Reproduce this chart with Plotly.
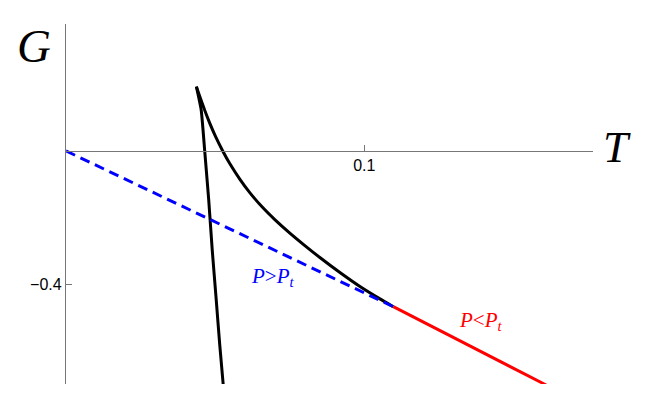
import plotly.graph_objects as go

# Values
small_T = [0.04372, 0.04533, 0.04651, 0.04785, 0.04903, 0.05037, 0.05155, 0.05272]
small_G = [0.1925, 0.1228, 0.0, -0.1467, -0.2964, -0.4461, -0.5808, -0.7006]

large_T = [0.04372, 0.04483, 0.04651, 0.04819, 0.05020, 0.05255, 0.05490, 0.05826,
           0.06162, 0.06565, 0.07001, 0.07505, 0.08009, 0.08512, 0.09184, 0.09856,
           0.10527, 0.10974]
large_G = [0.1925, 0.1635, 0.1216, 0.0832, 0.0419, 0.0, -0.0377, -0.0841,
           -0.1246, -0.1665, -0.2054, -0.2458, -0.2832, -0.3189, -0.3638, -0.4057,
           -0.4428, -0.4662]

blue_T = [0.0, 0.10974]
blue_G = [0.0, -0.4662]

red_T = [0.10974, 0.1610]
red_G = [-0.4662, -0.7006]

x_ticks = [0.1]
x_ticktext = ["0.1"]
y_ticks = [-0.4]
y_ticktext = ["\u22120.4"]

fig = go.Figure()
fig.add_trace(go.Scatter(x=small_T, y=small_G, mode="lines",
                         line=dict(color="black", width=3, shape="spline", smoothing=0.5)))
fig.add_trace(go.Scatter(x=large_T, y=large_G, mode="lines",
                         line=dict(color="black", width=3, shape="spline", smoothing=0.5)))
fig.add_trace(go.Scatter(x=blue_T, y=blue_G, mode="lines",
                         line=dict(color="#0000ff", width=3, dash="10px,6px")))
fig.add_trace(go.Scatter(x=red_T, y=red_G, mode="lines",
                         line=dict(color="#ff0000", width=3)))

ymin, ymax = -0.6976, 0.380
fig.update_layout(
    width=640, height=404,
    margin=dict(l=58, r=55, t=16, b=28),
    paper_bgcolor="white", plot_bgcolor="white",
    showlegend=False,
    xaxis=dict(range=[0, 0.1767], showgrid=False, zeroline=False, showline=True,
               linecolor="#777777", linewidth=1.3, anchor="free",
               position=(0 - ymin) / (ymax - ymin),
               tickvals=x_ticks, ticktext=x_ticktext, ticks="inside", ticklen=6,
               tickcolor="#777777",
               tickfont=dict(family="Liberation Sans", size=16, color="black")),
    yaxis=dict(range=[ymin, ymax], showgrid=False, zeroline=False, showline=True,
               linecolor="#777777", linewidth=1.3,
               tickvals=y_ticks, ticktext=y_ticktext, ticks="inside", ticklen=6,
               tickcolor="#777777",
               tickfont=dict(family="Liberation Sans", size=16, color="black")),
    annotations=[
        dict(text="<i>G</i>", xref="paper", yref="paper", x=-0.060, y=0.94,
             xanchor="center", yanchor="middle", showarrow=False,
             font=dict(family="Liberation Serif", size=47, color="black")),
        dict(text="<i>T</i>", xref="paper", yref="paper", x=1.046, y=0.658,
             xanchor="center", yanchor="middle", showarrow=False,
             font=dict(family="Liberation Serif", size=45, color="black")),
        dict(text="<i>P</i>&gt;<i>P<sub>t</sub></i>", x=0.0693, y=-0.377, showarrow=False,
             xanchor="center", yanchor="middle",
             font=dict(family="Liberation Serif", size=21, color="#0000ff")),
        dict(text="<i>P</i>&lt;<i>P<sub>t</sub></i>", x=0.1392, y=-0.509, showarrow=False,
             xanchor="center", yanchor="middle",
             font=dict(family="Liberation Serif", size=21, color="#ff0000")),
    ],
)
fig.write_html("out.html")
